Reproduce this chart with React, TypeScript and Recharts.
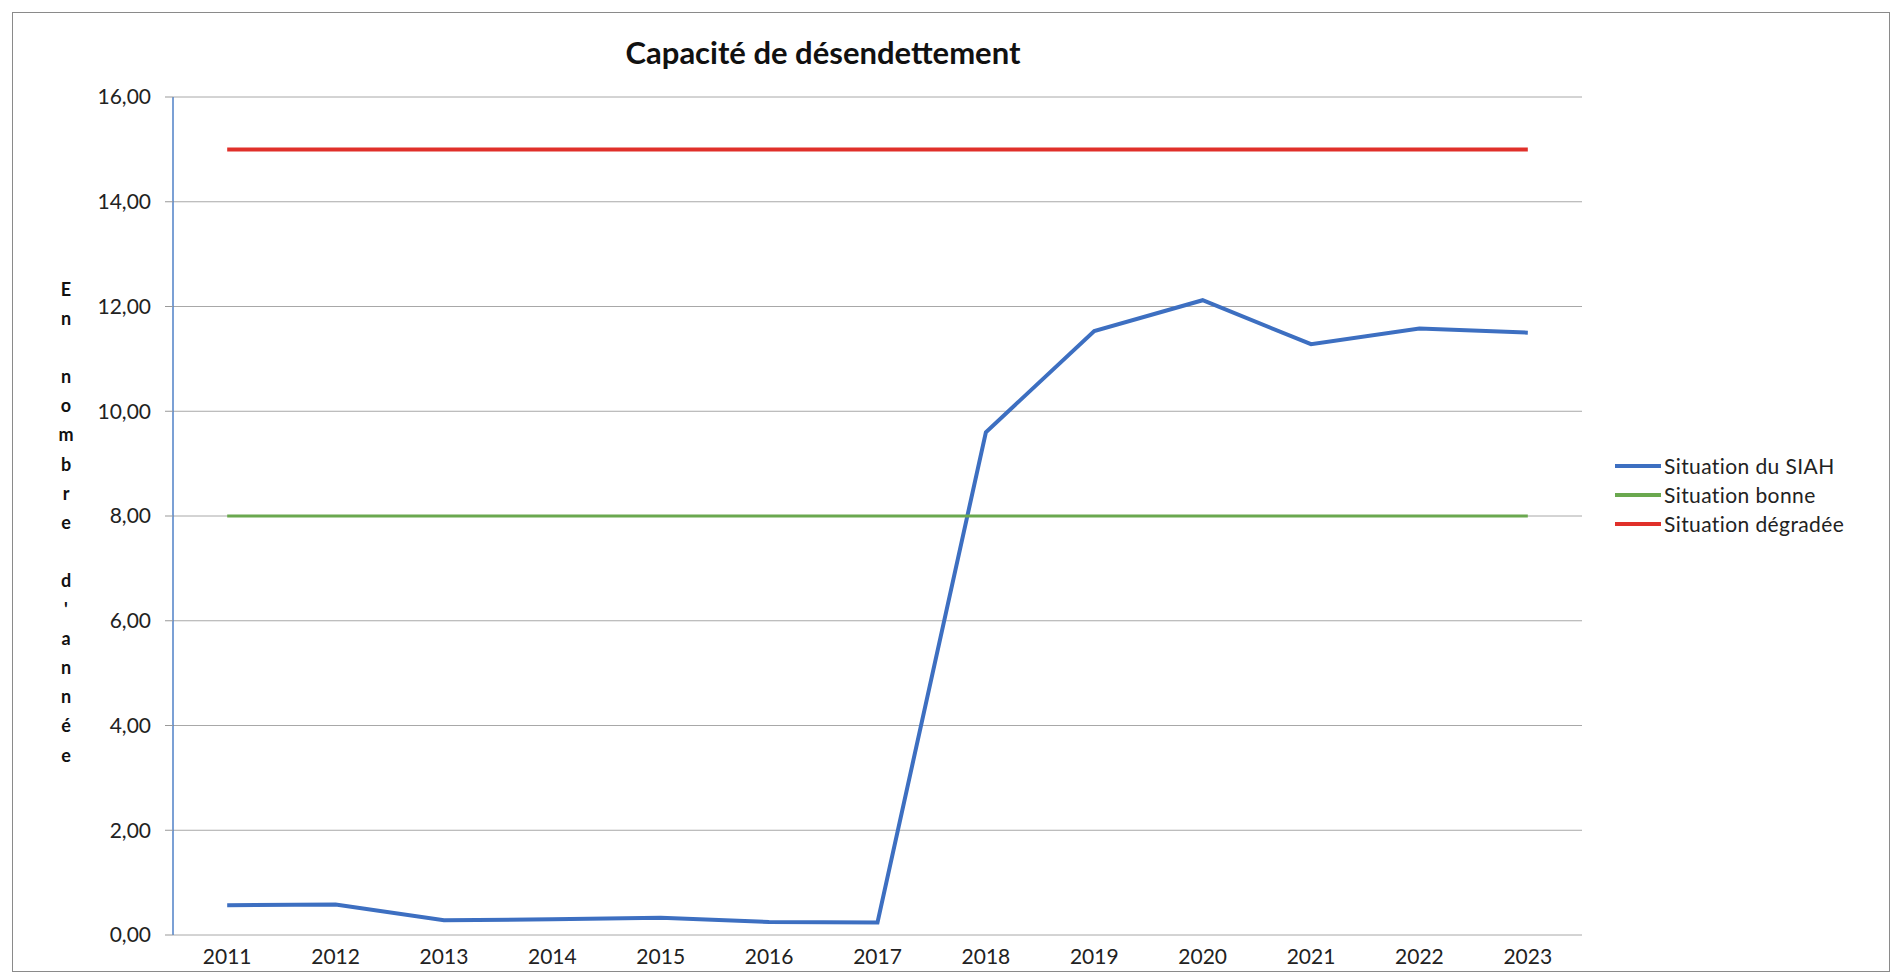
import { LineChart, Line, XAxis, YAxis, CartesianGrid, Legend } from "recharts";

const years = [2011, 2012, 2013, 2014, 2015, 2016, 2017, 2018, 2019, 2020, 2021, 2022, 2023];
const siah = [0.57, 0.58, 0.28, 0.3, 0.33, 0.25, 0.24, 9.6, 11.53, 12.12, 11.28, 11.58, 11.5];
const bonne = [8, 8, 8, 8, 8, 8, 8, 8, 8, 8, 8, 8, 8];
const degradee = [15, 15, 15, 15, 15, 15, 15, 15, 15, 15, 15, 15, 15];
const yTicks = [0, 2, 4, 6, 8, 10, 12, 14, 16];
// tick marks sit between the years, like Excel
const yearEdges = [2010.5, 2011.5, 2012.5, 2013.5, 2014.5, 2015.5, 2016.5, 2017.5, 2018.5, 2019.5, 2020.5, 2021.5, 2022.5, 2023.5];
const seriesOrder = ["Situation du SIAH", "Situation bonne", "Situation dégradée"];
const yLabel = "En nombre d'année";

const data = years.map((year, i) => ({
  year,
  siah: siah[i],
  bonne: bonne[i],
  degradee: degradee[i],
}));

const FONT = "Lato, 'Open Sans', sans-serif";

function LegendBox({ payload }: any) {
  const items = [...(payload || [])].sort(
    (a: any, b: any) => seriesOrder.indexOf(a.value) - seriesOrder.indexOf(b.value)
  );
  return (
    <div style={{ fontFamily: FONT, fontSize: 21, color: "#222", letterSpacing: 0.4 }}>
      {items.map((p: any) => (
        <div key={p.value} style={{ display: "flex", alignItems: "center", height: 29 }}>
          <span style={{ display: "inline-block", width: 46, height: 4, background: p.color, marginRight: 3 }} />
          <span>{p.value}</span>
        </div>
      ))}
    </div>
  );
}

export default function App() {
  return (
    <div
      style={{
        position: "absolute",
        left: 12,
        top: 12,
        width: 1876,
        height: 958,
        border: "1px solid #8a8a8a",
        background: "#fff",
      }}
    >
      <div
        style={{
          position: "absolute",
          left: 810,
          top: 20,
          transform: "translateX(-50%)",
          fontFamily: FONT,
          fontWeight: 700,
          fontSize: 31,
          color: "#111",
          whiteSpace: "nowrap",
        }}
      >
        Capacité de désendettement
      </div>
      <div
        style={{
          position: "absolute",
          left: 42,
          top: 262,
          width: 22,
          textAlign: "center",
          fontFamily: FONT,
          fontWeight: 700,
          fontSize: 18,
          lineHeight: "29.1px",
          color: "#111",
        }}
      >
        {yLabel.split("").map((c, i) => (
          <div key={i} style={{ height: 29.1 }}>{c === " " ? "\u00a0" : c}</div>
        ))}
      </div>
      <LineChart width={1876} height={958} data={data} margin={{ top: 84, right: 307, left: 0, bottom: 0 }}>
        <CartesianGrid vertical={false} stroke="#a8a8a8" />
        <XAxis
          dataKey="year"
          type="number"
          domain={[2010.5, 2023.5]}
          ticks={yearEdges}
          tick={false}
          tickSize={6}
          tickLine={{ stroke: "#999" }}
          axisLine={{ stroke: "#999" }}
          height={0}
          interval={0}
        />
        <XAxis
          xAxisId="labels"
          dataKey="year"
          type="number"
          domain={[2010.5, 2023.5]}
          ticks={years}
          tickLine={false}
          axisLine={false}
          tickSize={0}
          tickMargin={14}
          height={36}
          interval={0}
          tick={{ fill: "#222", fontSize: 21, fontFamily: FONT }}
        />
        <YAxis
          width={160}
          domain={[0, 16]}
          ticks={yTicks}
          tickFormatter={(v: number) => v.toFixed(2).replace(".", ",")}
          axisLine={{ stroke: "#4f81c7", strokeWidth: 1.5 }}
          tickLine={{ stroke: "#999" }}
          tickSize={8}
          tickMargin={14}
          interval={0}
          tick={{ fill: "#222", fontSize: 21, fontFamily: FONT }}
        />
        <Legend
          layout="vertical"
          align="center"
          verticalAlign="middle"
          content={<LegendBox />}
          wrapperStyle={{ left: 1602, top: 438, right: "auto", bottom: "auto", width: 270 }}
        />
        <Line
          name="Situation du SIAH"
          dataKey="siah"
          type="linear"
          stroke="#3d6fc1"
          strokeWidth={4}
          dot={false}
          isAnimationActive={false}
        />
        <Line
          name="Situation bonne"
          dataKey="bonne"
          type="linear"
          stroke="#6aa84f"
          strokeWidth={3}
          dot={false}
          isAnimationActive={false}
        />
        <Line
          name="Situation dégradée"
          dataKey="degradee"
          type="linear"
          stroke="#e0302a"
          strokeWidth={4}
          dot={false}
          isAnimationActive={false}
        />
      </LineChart>
    </div>
  );
}
